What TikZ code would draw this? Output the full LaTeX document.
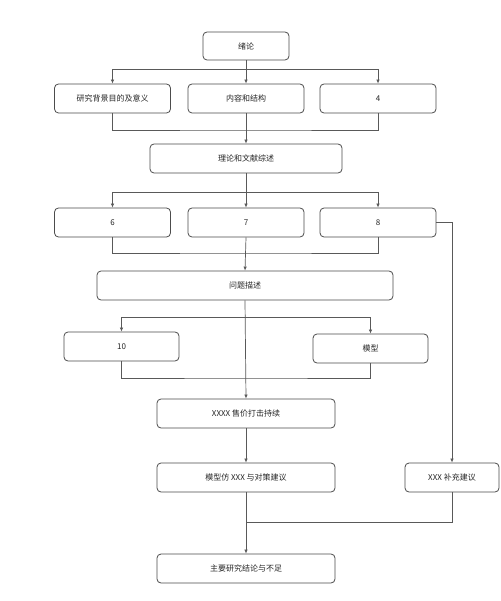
\documentclass[tikz,border=0pt]{standalone}
\usepackage{fontspec}
\newfontfamily\cjk{Noto Sans CJK SC}
\usepackage{tikz}
\usetikzlibrary{positioning,arrows.meta}

\begin{document}
\begin{tikzpicture}[x=1pt,y=-1pt,
		box/.style={draw=black!70,line width=0.8pt,rounded corners=4pt,fill=white,
			minimum height=29pt,inner sep=0pt,font=\cjk\fontsize{8}{10}\selectfont,text=black!85},
		link/.style={draw=black!65,line width=0.7pt},
		arr/.style={link,-{Latex[length=4pt,width=3.5pt]}}]
			
			\fill[white] (0,0) rectangle (500,601);
			\useasboundingbox (0,0) rectangle (500,601);
			
			\node[box,minimum width=86pt,minimum height=28pt] (xl) at (246,46) {绪论};
			
			\foreach \nm/\x/\lab in {bg/112.5/研究背景目的及意义,nr/246/内容和结构,s4/378/4}
			{
				\node[box,minimum width=116pt] (\nm) at (\x,98.5) {\lab};
			}
			
			\node[box,minimum width=192pt] (ll) at (246,158.5) {理论和文献综述};
			
			\foreach \nm/\x/\lab in {s6/112.5/6,s7/246/7,s8/378/8}
			{
				\node[box,minimum width=116pt] (\nm) at (\x,222.5) {\lab};
			}
			
			\node[box,minimum width=296pt] (wt) at (245,285.5) {问题描述};
			\node[box,minimum width=115pt] (s10) at (121.5,346.5) {10};
			\node[box,minimum width=115pt] (mx) at (370.5,348.5) {模型};
			\node[box,minimum width=178pt] (sj) at (246,413.5) {XXXX 售价打击持续};
			\node[box,minimum width=178pt] (fz) at (246,477.5) {模型仿 XXX 与对策建议};
			\node[box,minimum width=94pt] (bc) at (452,477.5) {XXX 补充建议};
			\node[box,minimum width=178pt] (zl) at (246,568.5) {主要研究结论与不足};
			
			% split and join points
			\coordinate (fenA) at (246,69);
			\coordinate (heA) at (246,130);
			\coordinate (fenB) at (246,192);
			\coordinate (heB) at (246,253);
			\coordinate (fenC) at (246,317);
			\coordinate (heC) at (246,378);
			\coordinate (heD) at (246,522);
			
			\draw[arr] (xl.south) -- (nr.north);
			\draw[arr] (fenA) -| (bg.north);
			\draw[arr] (fenA) -| (s4.north);
			
			\draw[link] (bg.south) |- (heA) -| (s4.south);
			\draw[arr] (nr.south) -- (ll.north);
			
			\draw[arr] (ll.south) -- (s7.north);
			\draw[arr] (fenB) -| (s6.north);
			\draw[arr] (fenB) -| (s8.north);
			
			\draw[link] (s6.south) |- (heB) -| (s8.south);
			\draw[arr] (s7.south) -- (wt.north);
			\draw[arr] (s8.east) -| (bc.north);
			
			\draw[arr] (wt.south) -- (sj.north);
			\draw[arr] (fenC) -| (s10.north);
			\draw[arr] (fenC) -| (mx.north);
			\draw[link] (s10.south) |- (heC) -| (mx.south);
			
			\draw[arr] (sj.south) -- (fz.north);
			\draw[arr] (fz.south) -- (zl.north);
			\draw[link] (bc.south) |- (heD);
			
		\end{tikzpicture}
\end{document}
